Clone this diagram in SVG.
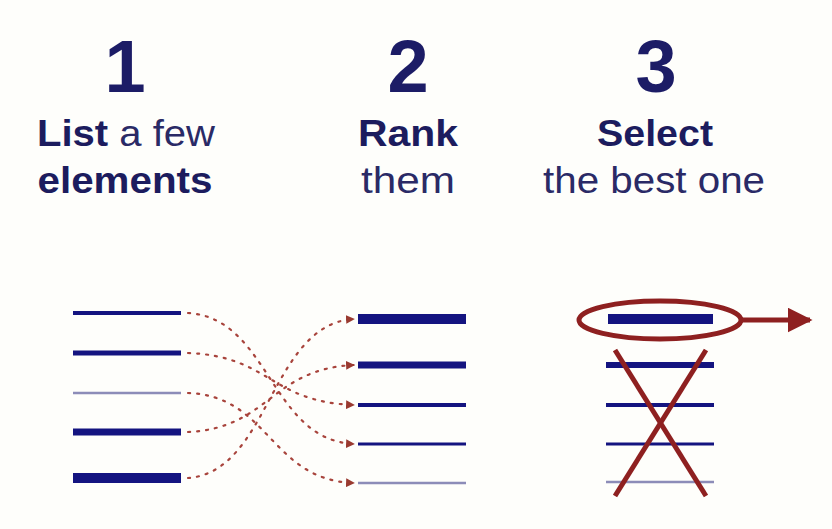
<svg xmlns="http://www.w3.org/2000/svg" width="832" height="529" viewBox="0 0 832 529">
<defs>
<style>
.num{font-family:"Liberation Sans",Arial,sans-serif;font-weight:bold;font-size:74px;fill:#1c1c66;text-anchor:middle}
.t{font-family:"Liberation Sans",Arial,sans-serif;font-size:37px;fill:#2a2a66;text-anchor:middle}
.b{font-weight:bold;fill:#1c1c5e}
.bar{stroke:#141480;stroke-linecap:butt}
.light{stroke:#8c8cb8}
.dot{fill:none;stroke:#a8443c;stroke-width:2.2;stroke-dasharray:2 7;stroke-linecap:round;marker-end:url(#ah)}
.red{stroke:#8e2020;fill:none;stroke-width:5}
</style>
<marker id="ah" viewBox="0 0 10 10" refX="9" refY="5" markerWidth="4" markerHeight="4" orient="auto" markerUnits="strokeWidth">
<path d="M0,0 L10,5 L0,10 z" fill="#9a3a30"/>
</marker>
<marker id="bigah" viewBox="0 0 10 10" refX="9" refY="5" markerWidth="5" markerHeight="5" orient="auto" markerUnits="strokeWidth">
<path d="M0,0 L10,5 L0,10 z" fill="#8e2020"/>
</marker>
</defs>
<rect width="832" height="529" fill="#fefefb"/>
<g id="step1">
<text class="num" x="125" y="92">1</text>
<text class="t" x="126" y="146" textLength="178" lengthAdjust="spacingAndGlyphs"><tspan class="b">List</tspan> a few</text>
<text class="t b" x="125" y="193" textLength="175" lengthAdjust="spacingAndGlyphs">elements</text>
</g>
<g id="step2">
<text class="num" x="408" y="92">2</text>
<text class="t b" x="408" y="146" textLength="100" lengthAdjust="spacingAndGlyphs">Rank</text>
<text class="t" x="408" y="193" textLength="94" lengthAdjust="spacingAndGlyphs">them</text>
</g>
<g id="step3">
<text class="num" x="656" y="92">3</text>
<text class="t b" x="655" y="146" textLength="116" lengthAdjust="spacingAndGlyphs">Select</text>
<text class="t" x="654" y="193" textLength="222" lengthAdjust="spacingAndGlyphs">the best one</text>
</g>
<g id="list">
<line class="bar" x1="73" y1="313" x2="181" y2="313" stroke-width="4"/>
<line class="bar" x1="73" y1="353" x2="181" y2="353" stroke-width="5"/>
<line class="bar light" x1="73" y1="393" x2="181" y2="393" stroke-width="2.5"/>
<line class="bar" x1="73" y1="432" x2="181" y2="432" stroke-width="7"/>
<line class="bar" x1="73" y1="478" x2="181" y2="478" stroke-width="10"/>
</g>
<g id="ranked">
<line class="bar" x1="358" y1="319" x2="466" y2="319" stroke-width="10"/>
<line class="bar" x1="358" y1="365" x2="466" y2="365" stroke-width="7"/>
<line class="bar" x1="358" y1="405" x2="466" y2="405" stroke-width="4"/>
<line class="bar" x1="358" y1="444" x2="466" y2="444" stroke-width="3"/>
<line class="bar light" x1="358" y1="483" x2="466" y2="483" stroke-width="2.5"/>
</g>
<g id="connectors">
<path class="dot" d="M188,313 C270,318 270,440 354,444"/>
<path class="dot" d="M188,353 C270,356 270,402 354,405"/>
<path class="dot" d="M188,393 C270,396 270,480 354,483"/>
<path class="dot" d="M188,432 C270,428 270,369 354,365"/>
<path class="dot" d="M188,478 C270,472 270,324 354,319"/>
</g>
<g id="select">
<line class="bar" x1="606" y1="365" x2="714" y2="365" stroke-width="6"/>
<line class="bar" x1="606" y1="405" x2="714" y2="405" stroke-width="4"/>
<line class="bar" x1="606" y1="444" x2="714" y2="444" stroke-width="3"/>
<line class="bar light" x1="606" y1="482" x2="714" y2="482" stroke-width="2.5"/>
<line class="bar" x1="608" y1="319" x2="713" y2="319" stroke-width="10"/>
<ellipse class="red" cx="660" cy="320" rx="81" ry="19"/>
<line class="red" x1="741" y1="320" x2="810" y2="320" stroke-width="4.5" marker-end="url(#bigah)"/>
<line class="red" x1="615" y1="350" x2="706" y2="496"/>
<line class="red" x1="706" y1="350" x2="615" y2="496"/>
</g>
</svg>
